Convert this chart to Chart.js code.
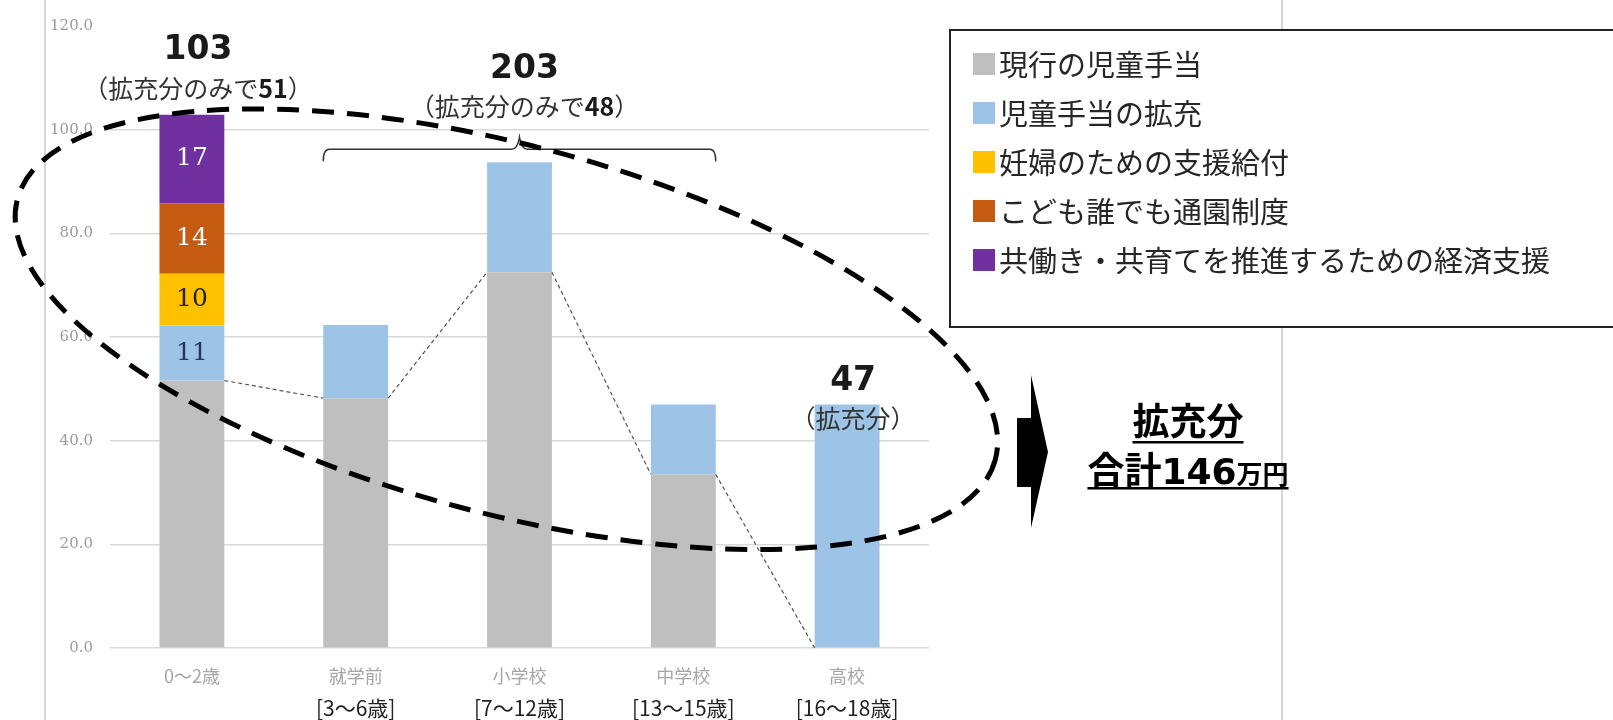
<!DOCTYPE html>
<html lang="ja">
<head>
<meta charset="utf-8">
<title>拡充分 合計146万円</title>
<script src="https://cdn.jsdelivr.net/npm/chart.js@4.4.1/dist/chart.umd.min.js"></script>
<style>
  html, body { margin: 0; padding: 0; background: #fff; }
  #wrap { width: 1613px; height: 720px; }
</style>
</head>
<body>
<div id="wrap"><canvas id="benefitChart" width="1613" height="720"></canvas></div>
<script>
const categories = ["0～2歳", "就学前", "小学校", "中学校", "高校"];
const ageRanges = ["", "[3～6歳]", "[7～12歳]", "[13～15歳]", "[16～18歳]"];

const seriesNames = [
  "現行の児童手当",
  "児童手当の拡充",
  "妊婦のための支援給付",
  "こども誰でも通園制度",
  "共働き・共育てを推進するための経済支援"
];
const seriesColors = ["#bfbfbf", "#9dc3e6", "#ffc000", "#c55a11", "#7030a0"];
const labelColors = ["#222", "#1f3864", "#222", "#fff", "#fff"];

const currentAllowance = [51.6, 48.2, 72.5, 33.5, 0];
const allowanceExpansion = [10.6, 14.1, 21.2, 13.5, 47];
const pregnancySupport = [10, 0, 0, 0, 0];
const daycareForAll = [13.6, 0, 0, 0, 0];
const dualIncomeSupport = [17.1, 0, 0, 0, 0];

const yMin = 0, yMax = 120, yStep = 20;

// callouts
const firstTotal = "103", firstExtra = "51";
const groupTotal = "203", groupExtra = "48";
const lastTotal = "47";
const sumTitle = "拡充分", sumPrefix = "合計", sumValue = "146", sumUnit = "万円";

const JP = "'Noto Sans CJK JP', 'Noto Sans', sans-serif";

function drawRich(ctx, parts, cx, cy, baseline) {
  let total = 0;
  parts.forEach(p => { ctx.font = p.font; p.w = ctx.measureText(p.text).width; total += p.w; });
  let x = cx - total / 2;
  ctx.textAlign = "left";
  ctx.textBaseline = baseline || "middle";
  parts.forEach(p => {
    ctx.font = p.font;
    ctx.fillStyle = p.color;
    ctx.fillText(p.text, x, cy);
    x += p.w;
  });
  return total;
}

const decorations = {
  id: "decorations",
  beforeDraw(chart) {
    const ctx = chart.ctx;
    ctx.save();
    ctx.fillStyle = "#fff";
    ctx.fillRect(0, 0, chart.width, chart.height);
    ctx.strokeStyle = "#d6d6d6";
    ctx.lineWidth = 2;
    ctx.beginPath();
    ctx.moveTo(45, 0); ctx.lineTo(45, chart.height);
    ctx.moveTo(1282, 0); ctx.lineTo(1282, chart.height);
    ctx.stroke();
    ctx.restore();
  },
  afterDatasetsDraw(chart) {
    const ctx = chart.ctx;
    const x = chart.scales.x, y = chart.scales.y;
    const gray = chart.getDatasetMeta(0).data;
    const top = chart.getDatasetMeta(4).data;

    ctx.save();
    // series lines between current allowance tops
    ctx.strokeStyle = "#555";
    ctx.lineWidth = 1.2;
    ctx.setLineDash([4, 3]);
    for (let i = 0; i < gray.length - 1; i++) {
      const a = gray[i], b = gray[i + 1];
      ctx.beginPath();
      ctx.moveTo(a.x + a.width / 2, a.y);
      ctx.lineTo(b.x - b.width / 2, b.y);
      ctx.stroke();
    }
    ctx.setLineDash([]);

    // labels inside the first bar
    ctx.textAlign = "center";
    ctx.textBaseline = "middle";
    ctx.font = "25px 'DejaVu Serif', serif";
    for (let d = 1; d < seriesNames.length; d++) {
      const el = chart.getDatasetMeta(d).data[0];
      const v = chart.data.datasets[d].data[0];
      if (!v) continue;
      ctx.fillStyle = labelColors[d];
      ctx.fillText(String(Math.round(v)), el.x, (el.y + el.base) / 2);
    }

    // brace over 就学前 .. 中学校
    const left = gray[1].x - gray[1].width / 2;
    const right = gray[3].x + gray[3].width / 2;
    const braceY = Math.min(top[1].y, top[2].y, top[3].y) - 13;
    const cx = (left + right) / 2;
    ctx.strokeStyle = "#333";
    ctx.lineWidth = 1.5;
    ctx.beginPath();
    ctx.moveTo(left, braceY + 12);
    ctx.quadraticCurveTo(left, braceY, left + 6, braceY);
    ctx.lineTo(cx - 8, braceY);
    ctx.quadraticCurveTo(cx - 2, braceY, cx, braceY - 12);
    ctx.quadraticCurveTo(cx + 2, braceY, cx + 8, braceY);
    ctx.lineTo(right - 6, braceY);
    ctx.quadraticCurveTo(right, braceY, right, braceY + 12);
    ctx.stroke();

    // dashed ellipse
    const ex = x.getPixelForValue(1.92), ey = y.getPixelForValue(61.5);
    ctx.strokeStyle = "#000";
    ctx.lineWidth = 5;
    ctx.setLineDash([22, 13]);
    ctx.beginPath();
    ctx.ellipse(ex, ey, 506, 184, 14.9 * Math.PI / 180, 0, Math.PI * 2);
    ctx.stroke();
    ctx.setLineDash([]);

    // callout texts
    const numFont = "bold 33px 'DejaVu Sans', sans-serif";
    const jpFont = "25px " + JP;
    const jpBold = "bold 25px " + JP;
    ctx.textAlign = "center";
    ctx.textBaseline = "middle";
    ctx.fillStyle = "#1a1a1a";
    ctx.font = numFont;
    ctx.fillText(firstTotal, top[0].x + 6, top[0].y - 64);
    drawRich(ctx, [
      { text: "（拡充分のみで", font: jpFont, color: "#333" },
      { text: firstExtra, font: jpBold, color: "#1a1a1a" },
      { text: "）", font: jpFont, color: "#333" }
    ], top[0].x + 6, top[0].y - 26);

    ctx.textAlign = "center";
    ctx.fillStyle = "#1a1a1a";
    ctx.font = numFont;
    ctx.fillText(groupTotal, cx + 5, braceY - 80);
    drawRich(ctx, [
      { text: "（拡充分のみで", font: jpFont, color: "#333" },
      { text: groupExtra, font: jpBold, color: "#1a1a1a" },
      { text: "）", font: jpFont, color: "#333" }
    ], cx + 5, braceY - 43);

    const last = chart.getDatasetMeta(1).data[4];
    ctx.textAlign = "center";
    ctx.fillStyle = "#1a1a1a";
    ctx.font = numFont;
    ctx.fillText(lastTotal, last.x + 6, last.y - 23);
    ctx.font = jpFont;
    ctx.fillStyle = "#333";
    ctx.fillText("（拡充分）", last.x + 6, last.y + 14);

    // second line of the category labels
    ctx.font = "21px " + JP;
    ctx.fillStyle = "#222";
    ageRanges.forEach((t, i) => {
      if (t) ctx.fillText(t, x.getPixelForTick(i), x.top + 60);
    });
    ctx.restore();
  },
  afterDraw(chart) {
    const ctx = chart.ctx;
    const area = chart.chartArea;
    ctx.save();

    // legend box
    const lx = area.right + 21, ly = 30;
    ctx.fillStyle = "#fff";
    ctx.fillRect(lx, ly, 720, 297);
    ctx.strokeStyle = "#222";
    ctx.lineWidth = 2;
    ctx.strokeRect(lx, ly, 720, 297);
    ctx.font = "29px " + JP;
    ctx.textAlign = "left";
    ctx.textBaseline = "middle";
    seriesNames.forEach((name, i) => {
      const cy = ly + 34 + i * 49;
      ctx.fillStyle = seriesColors[i];
      ctx.fillRect(lx + 23, cy - 11, 22, 22);
      ctx.fillStyle = "#262626";
      ctx.fillText(name, lx + 49, cy + 1);
    });

    // block arrow
    const ax = area.right + 88;
    ctx.fillStyle = "#000";
    ctx.beginPath();
    ctx.moveTo(ax, 418);
    ctx.lineTo(ax + 14, 418);
    ctx.lineTo(ax + 14, 375);
    ctx.lineTo(ax + 31, 452);
    ctx.lineTo(ax + 14, 528);
    ctx.lineTo(ax + 14, 487);
    ctx.lineTo(ax, 487);
    ctx.closePath();
    ctx.fill();

    // total text
    const tx = area.right + 259;
    ctx.textAlign = "center";
    ctx.textBaseline = "alphabetic";
    ctx.fillStyle = "#000";
    ctx.font = "bold 37px " + JP;
    ctx.fillText(sumTitle, tx, 435);
    const w1 = ctx.measureText(sumTitle).width;
    ctx.fillRect(tx - w1 / 2, 441, w1, 2.5);

    const w2 = drawRich(ctx, [
      { text: sumPrefix, font: "bold 37px " + JP, color: "#000" },
      { text: sumValue, font: "bold 36px 'DejaVu Sans', sans-serif", color: "#000" },
      { text: sumUnit, font: "bold 26px " + JP, color: "#000" }
    ], tx, 484, "alphabetic");
    ctx.fillRect(tx - w2 / 2, 487, w2, 2.5);
    ctx.restore();
  }
};

const datasets = [currentAllowance, allowanceExpansion, pregnancySupport, daycareForAll, dualIncomeSupport]
  .map((values, i) => ({
    label: seriesNames[i],
    data: values,
    backgroundColor: seriesColors[i],
    borderWidth: 0,
    barPercentage: 0.396,
    categoryPercentage: 1.0
  }));

const ctx = document.getElementById("benefitChart").getContext("2d");
const benefitChart = new Chart(ctx, {
  type: "bar",
  data: { labels: categories, datasets: datasets },
  options: {
    responsive: false,
    animation: false,
    layout: { padding: { left: 48, right: 684, top: 18, bottom: 0 } },
    plugins: {
      legend: { display: false },
      tooltip: { enabled: false }
    },
    scales: {
      x: {
        stacked: true,
        grid: { display: false },
        border: { display: false },
        ticks: { color: "#a6a6a6", font: { family: "Noto Sans CJK JP", size: 18 }, padding: 9 },
        afterFit: s => { s.height = 72; }
      },
      y: {
        stacked: true,
        min: yMin,
        max: yMax,
        border: { display: false },
        grid: {
          drawTicks: false,
          lineWidth: 1.5,
          color: c => (c.tick && c.tick.value === yMax ? "rgba(0,0,0,0)" : "#d9d9d9")
        },
        ticks: {
          stepSize: yStep,
          padding: 17,
          color: "#9a9a9a",
          font: { family: "DejaVu Serif", size: 15 },
          callback: v => v.toFixed(1)
        },
        afterFit: s => { s.width = 62; }
      }
    }
  },
  plugins: [decorations]
});
</script>
</body>
</html>
